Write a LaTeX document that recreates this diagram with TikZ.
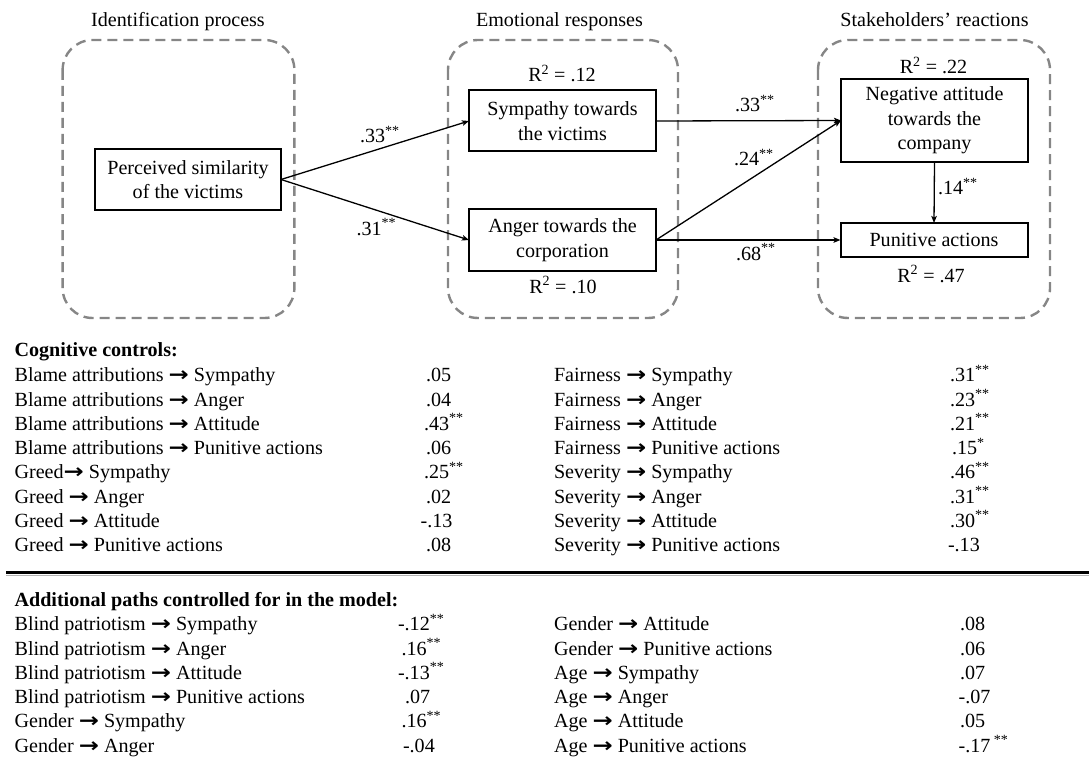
\documentclass[tikz,border=0pt]{standalone}
\usepackage{fontspec}
\setmainfont{Liberation Serif}
\newfontfamily\arrowfont{DejaVu Sans}
\usetikzlibrary{arrows.meta}
\definecolor{dashgray}{RGB}{134,134,134}
\newcommand\rarr{\scalebox{1.2}[1]{\arrowfont\bfseries →}}
\newcommand\st[1]{\textsuperscript{#1}}
\begin{document}
\begin{tikzpicture}[x=1pt,y=-1pt,
  every node/.style={font=\fontsize{20.1}{24.5}\selectfont, inner sep=0pt, outer sep=0pt},
  grp/.style={draw=dashgray, line width=2.4pt, dash pattern=on 10pt off 6pt, rounded corners=30pt},
  var/.style={draw, line width=2pt, align=center, minimum width=187pt},
  pth/.style={line width=1.3pt, -{Stealth[length=7pt,width=5.5pt,inset=1.5pt]}},
  lbl/.style={anchor=base west},
  ttl/.style={anchor=base},
]
\useasboundingbox (0,0) rectangle (1089,762);

% group frames
\draw[grp] (62.6,40) rectangle (294.4,318);
\draw[grp] (448,40) rectangle (678,318);
\draw[grp] (818,40) rectangle (1050,318);

% titles
\node[ttl] (t1) at (178,27) {Identification process};
\node[ttl] (t2) at (559.5,27) {Emotional responses};
\node[ttl] (t3) at (934.5,27) {Stakeholders’ reactions};

% variables
\node[var, minimum width=186pt, minimum height=61pt] (per) at (188,179.5) {Perceived similarity\\of the victims};
\node[var, minimum height=61pt] (sym) at (562.5,121) {Sympathy towards\\the victims};
\node[var, minimum height=62pt] (ang) at (562.5,240) {Anger towards the\\corporation};
\node[var, minimum height=83pt] (att) at (934.5,120.5) {Negative attitude\\towards the\\company};
\node[var, minimum height=34pt] (pun) at (934,240) {Punitive actions};

% R squared
\node[ttl] (r1) at (562,82) {R\st{2} = .12};
\node[ttl] (r2) at (563,293) {R\st{2} = .10};
\node[ttl] (r3) at (933.5,74) {R\st{2} = .22};
\node[ttl] (r4) at (931,282) {R\st{2} = .47};

% paths
\draw[pth] (per.east) -- (sym.west);
\draw[pth] (per.east) -- (ang.west);
\draw[pth] (sym.east) -- (att.west);
\draw[pth] (ang.east) -- (att.west);
\draw[pth] (ang.east) -- (pun.west);
\draw[pth] (att.south) -- (pun.north);

\node[lbl] (e1) at (360,143) {.33\st{**}};
\node[lbl] (e2) at (356.5,235) {.31\st{**}};
\node[lbl] (e3) at (735,112) {.33\st{**}};
\node[lbl] (e4) at (734,165.7) {.24\st{**}};
\node[lbl] (e5) at (736,260) {.68\st{**}};
\node[lbl] (e6) at (938,195) {.14\st{**}};

% cognitive controls
\node[lbl] (ch) at (14.6,356.7) {\bfseries Cognitive controls:};
\node[lbl] (c1) at (14.6,381.7) {Blame attributions \rarr{} Sympathy};
\node[lbl] (c2) at (14.6,406.0) {Blame attributions \rarr{} Anger};
\node[lbl] (c3) at (14.6,430.3) {Blame attributions \rarr{} Attitude};
\node[lbl] (c4) at (14.6,454.6) {Blame attributions \rarr{} Punitive actions};
\node[lbl] (c5) at (14.6,478.9) {Greed\rarr{} Sympathy};
\node[lbl] (c6) at (14.6,503.2) {Greed \rarr{} Anger};
\node[lbl] (c7) at (14.6,527.5) {Greed \rarr{} Attitude};
\node[lbl] (c8) at (14.6,551.8) {Greed \rarr{} Punitive actions};

\node[lbl] (cv1) at (426,381.7) {.05};
\node[lbl] (cv2) at (426,406.0) {.04};
\node[lbl] (cv3) at (424,430.3) {.43\st{**}};
\node[lbl] (cv4) at (426,454.6) {.06};
\node[lbl] (cv5) at (424,478.9) {.25\st{**}};
\node[lbl] (cv6) at (426,503.2) {.02};
\node[lbl] (cv7) at (420.6,527.5) {-.13};
\node[lbl] (cv8) at (426,551.8) {.08};

\node[lbl] (d1) at (554,381.7) {Fairness \rarr{} Sympathy};
\node[lbl] (d2) at (554,406.0) {Fairness \rarr{} Anger};
\node[lbl] (d3) at (554,430.3) {Fairness \rarr{} Attitude};
\node[lbl] (d4) at (554,454.6) {Fairness \rarr{} Punitive actions};
\node[lbl] (d5) at (554,478.9) {Severity \rarr{} Sympathy};
\node[lbl] (d6) at (554,503.2) {Severity \rarr{} Anger};
\node[lbl] (d7) at (554,527.5) {Severity \rarr{} Attitude};
\node[lbl] (d8) at (554,551.8) {Severity \rarr{} Punitive actions};

\node[lbl] (dv1) at (950,381.7) {.31\st{**}};
\node[lbl] (dv2) at (950,406.0) {.23\st{**}};
\node[lbl] (dv3) at (950,430.3) {.21\st{**}};
\node[lbl] (dv4) at (952,454.6) {.15\st{*}};
\node[lbl] (dv5) at (950,478.9) {.46\st{**}};
\node[lbl] (dv6) at (950,503.2) {.31\st{**}};
\node[lbl] (dv7) at (950,527.5) {.30\st{**}};
\node[lbl] (dv8) at (948,551.8) {-.13};

% separator
\draw[line width=1.5pt, gray!60] (6,575.5) -- (1089,575.5);
\draw[line width=3.2pt] (6,572.5) -- (1089,572.5);

% additional paths
\node[lbl] (ah) at (14.6,606.7) {\bfseries Additional paths controlled for in the model:};
\node[lbl] (a1) at (14.6,630.7) {Blind patriotism \rarr{} Sympathy};
\node[lbl] (a2) at (14.6,655.0) {Blind patriotism \rarr{} Anger};
\node[lbl] (a3) at (14.6,679.3) {Blind patriotism \rarr{} Attitude};
\node[lbl] (a4) at (14.6,703.6) {Blind patriotism \rarr{} Punitive actions};
\node[lbl] (a5) at (14.6,727.9) {Gender \rarr{} Sympathy};
\node[lbl] (a6) at (14.6,752.2) {Gender \rarr{} Anger};

\node[lbl] (av1) at (398,630.7) {-.12\st{**}};
\node[lbl] (av2) at (401.5,655.0) {.16\st{**}};
\node[lbl] (av3) at (398,679.3) {-.13\st{**}};
\node[lbl] (av4) at (405,703.6) {.07};
\node[lbl] (av5) at (401.5,727.9) {.16\st{**}};
\node[lbl] (av6) at (403,752.2) {-.04};

\node[lbl] (b1) at (554,630.7) {Gender \rarr{} Attitude};
\node[lbl] (b2) at (554,655.0) {Gender \rarr{} Punitive actions};
\node[lbl] (b3) at (554,679.3) {Age \rarr{} Sympathy};
\node[lbl] (b4) at (554,703.6) {Age \rarr{} Anger};
\node[lbl] (b5) at (554,727.9) {Age \rarr{} Attitude};
\node[lbl] (b6) at (554,752.2) {Age \rarr{} Punitive actions};

\node[lbl] (bv1) at (960,630.7) {.08};
\node[lbl] (bv2) at (960,655.0) {.06};
\node[lbl] (bv3) at (960,679.3) {.07};
\node[lbl] (bv4) at (958.6,703.6) {-.07};
\node[lbl] (bv5) at (960,727.9) {.05};
\node[lbl] (bv6) at (958.6,752.2) {-.17\,\st{**}};
\end{tikzpicture}
\end{document}
